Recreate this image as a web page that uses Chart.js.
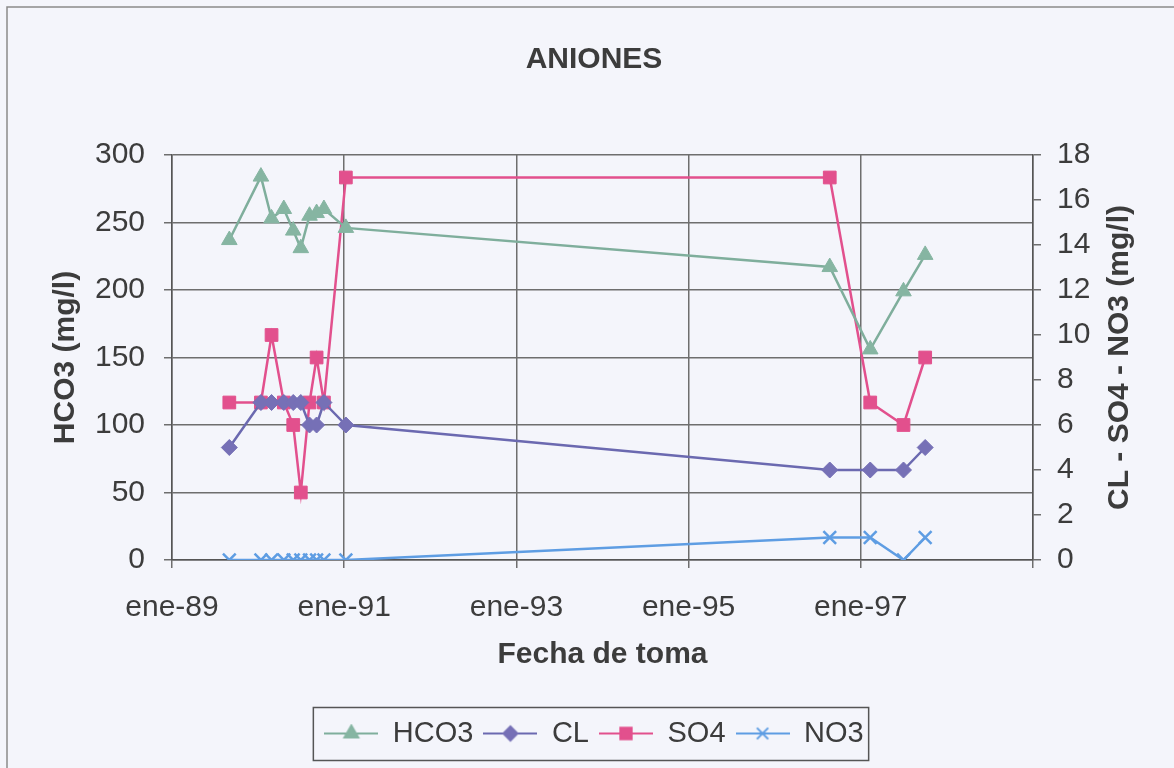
<!DOCTYPE html>
<html>
<head>
<meta charset="utf-8">
<script src="https://cdn.jsdelivr.net/npm/chart.js@4.4.0/dist/chart.umd.min.js"></script>
<style>
    html, body { margin: 0; padding: 0; background: #f4f5fb; }
    #wrap { width: 1174px; height: 768px; }
</style>
</head>
<body>
<div id="wrap"><canvas id="chart" width="1174" height="768"></canvas></div>
<script>
// Fechas de toma y valores
const fechas = [
    '1989-09-01', '1990-01-13', '1990-02-27', '1990-04-20', '1990-05-30',
    '1990-07-01', '1990-08-07', '1990-09-06', '1990-10-07', '1991-01-08',
    '1996-08-22', '1997-02-10', '1997-07-01', '1997-10-01'
];
const hco3 = [237, 284, 253, 260, 244, 231, 255, 257, 260, 246, 217, 156, 199, 226];
const cl   = [5, 7, 7, 7, 7, 7, 6, 6, 7, 6, 4, 4, 4, 5];
const so4  = [7, 7, 10, 7, 6, 3, 7, 9, 7, 17, 17, 7, 6, 9];
const no3  = [0, 0, 0, 0, 0, 0, 0, 0, 0, 0, 1, 1, 0, 1];

const xTicks = [1989, 1991, 1993, 1995, 1997, 1999];
const xTickLabels = ['ene-89', 'ene-91', 'ene-93', 'ene-95', 'ene-97', ''];

const FONT = "'Liberation Sans', Arial, sans-serif";
const TEXT_COLOR = '#3c3c3c';
const GRID_COLOR = '#6e6e6e';

// fecha 'AAAA-MM-DD' -> año decimal, para el eje lineal
function toYear(s) {
    const d = new Date(s + 'T00:00:00Z');
    const y = d.getUTCFullYear();
    const start = Date.UTC(y, 0, 1);
    return y + (d.getTime() - start) / (Date.UTC(y + 1, 0, 1) - start);
}

function toPoints(values) {
    return fechas.map((f, i) => ({ x: toYear(f), y: values[i] }));
}

const series = [
    { label: 'HCO3', data: hco3, axis: 'y',  color: '#7fae9c', fill: '#86b5a2', style: 'triangle', radius: 9 },
    { label: 'CL',   data: cl,   axis: 'y1', color: '#6b69b0', fill: '#7670b6', style: 'rectRot',  radius: 8 },
    { label: 'SO4',  data: so4,  axis: 'y1', color: '#e2508d', fill: '#e2508d', style: 'rect',     radius: 9 },
    { label: 'NO3',  data: no3,  axis: 'y1', color: '#5e9de3', fill: '#5e9de3', style: 'crossRot', radius: 9 },
];

// icono de la leyenda: línea con marcador al centro
function makeLegendIcon(s) {
    const c = document.createElement('canvas');
    c.width = 54;
    c.height = 20;
    const ctx = c.getContext('2d');
    ctx.strokeStyle = s.color;
    ctx.lineWidth = 2;
    ctx.beginPath();
    ctx.moveTo(0, 10);
    ctx.lineTo(54, 10);
    ctx.stroke();
    ctx.fillStyle = s.fill;
    ctx.strokeStyle = s.style === 'crossRot' ? s.color : s.fill;
    Chart.helpers.drawPoint(ctx, { pointStyle: s.style, radius: s.radius - 1, rotation: 0, borderWidth: 2 }, 27, 10);
    return c;
}
const legendIcons = series.map(makeLegendIcon);

const datasets = series.map((s) => ({
    label: s.label,
    data: toPoints(s.data),
    yAxisID: s.axis,
    borderColor: s.color,
    backgroundColor: s.fill,
    borderWidth: 2.5,
    pointStyle: s.style,
    pointRadius: s.radius,
    pointBorderColor: s.style === 'crossRot' ? s.color : s.fill,
    pointBackgroundColor: s.fill,
    pointBorderWidth: s.style === 'crossRot' ? 2.5 : 1,
    tension: 0,
}));

const framePlugin = {
    id: 'frame',
    beforeDraw(chart) {
        const ctx = chart.ctx;
        ctx.save();
        ctx.fillStyle = '#f4f5fb';
        ctx.fillRect(0, 0, chart.width, chart.height);
        ctx.strokeStyle = '#8a8a8a';
        ctx.lineWidth = 1.5;
        ctx.beginPath();
        ctx.moveTo(7, chart.height + 2);
        ctx.lineTo(7, 7);
        ctx.lineTo(chart.width + 2, 7);
        ctx.stroke();
        ctx.restore();
    },
    afterDraw(chart) {
        const ctx = chart.ctx;
        const area = chart.chartArea;
        // título del eje derecho, leído de abajo hacia arriba
        ctx.save();
        ctx.translate(1120, (area.top + area.bottom) / 2);
        ctx.rotate(-Math.PI / 2);
        ctx.font = 'bold 30px ' + FONT;
        ctx.fillStyle = TEXT_COLOR;
        ctx.textAlign = 'center';
        ctx.textBaseline = 'middle';
        ctx.fillText('CL - SO4 - NO3 (mg/l)', 0, 0);
        ctx.restore();

        // recuadro de la leyenda
        const boxes = chart.legend.legendHitBoxes;
        if (boxes && boxes.length) {
            const left = Math.min(...boxes.map((b) => b.left)) - 11;
            const right = Math.max(...boxes.map((b) => b.left + b.width)) + 5;
            const mid = boxes[0].top + boxes[0].height / 2;
            ctx.save();
            ctx.strokeStyle = '#555';
            ctx.lineWidth = 1.5;
            ctx.strokeRect(left, mid - 26, right - left, 53);
            ctx.restore();
        }
    },
};

const ctx = document.getElementById('chart').getContext('2d');
new Chart(ctx, {
    type: 'line',
    data: { datasets: datasets },
    options: {
        responsive: false,
        animation: false,
        layout: { padding: { top: 8, left: 14, right: 0, bottom: 10 } },
        scales: {
            x: {
                type: 'linear',
                min: 1989,
                max: 1999,
                afterBuildTicks: (scale) => {
                    scale.ticks = xTicks.map((v) => ({ value: v }));
                },
                afterFit: (scale) => { scale.height = 149; },
                ticks: {
                    autoSkip: false,
                    maxRotation: 0,
                    padding: 22,
                    color: TEXT_COLOR,
                    font: { family: FONT, size: 30 },
                    callback: (v) => xTickLabels[xTicks.indexOf(v)],
                },
                grid: { color: GRID_COLOR, lineWidth: 1.5, tickLength: 8 },
                border: { color: '#555', width: 1.5 },
                title: {
                    display: true,
                    text: 'Fecha de toma',
                    color: TEXT_COLOR,
                    font: { family: FONT, size: 30, weight: 'bold' },
                    padding: { top: 0, bottom: 36 },
                },
            },
            y: {
                position: 'left',
                min: 0,
                max: 300,
                afterFit: (scale) => { scale.width = 158; },
                ticks: {
                    stepSize: 50,
                    padding: 19,
                    color: TEXT_COLOR,
                    font: { family: FONT, size: 30 },
                },
                grid: { color: GRID_COLOR, lineWidth: 1.5, tickLength: 8 },
                border: { color: '#555', width: 1.5 },
                title: {
                    display: true,
                    text: 'HCO3 (mg/l)',
                    color: TEXT_COLOR,
                    font: { family: FONT, size: 30, weight: 'bold' },
                    padding: { top: 34, bottom: 0 },
                },
            },
            y1: {
                position: 'right',
                min: 0,
                max: 18,
                afterFit: (scale) => { scale.width = 141; },
                ticks: {
                    stepSize: 2,
                    padding: 16,
                    color: TEXT_COLOR,
                    font: { family: FONT, size: 30 },
                },
                grid: { drawOnChartArea: false, color: GRID_COLOR, lineWidth: 1.5, tickLength: 8 },
                border: { color: '#555', width: 1.5 },
            },
        },
        plugins: {
            title: {
                display: true,
                text: 'ANIONES',
                color: TEXT_COLOR,
                font: { family: FONT, size: 30, weight: 'bold' },
                padding: { top: 34, bottom: 77 },
            },
            legend: {
                position: 'bottom',
                labels: {
                    usePointStyle: true,
                    pointStyleWidth: 54,
                    padding: 10,
                    color: TEXT_COLOR,
                    font: { family: FONT, size: 29 },
                    generateLabels: (chart) => chart.data.datasets.map((ds, i) => ({
                        text: ds.label,
                        pointStyle: legendIcons[i],
                        fillStyle: 'transparent',
                        strokeStyle: 'transparent',
                        lineWidth: 0,
                        hidden: false,
                        datasetIndex: i,
                        fontColor: TEXT_COLOR,
                    })),
                },
            },
            tooltip: { enabled: false },
        },
    },
    plugins: [framePlugin],
});
</script>
</body>
</html>
